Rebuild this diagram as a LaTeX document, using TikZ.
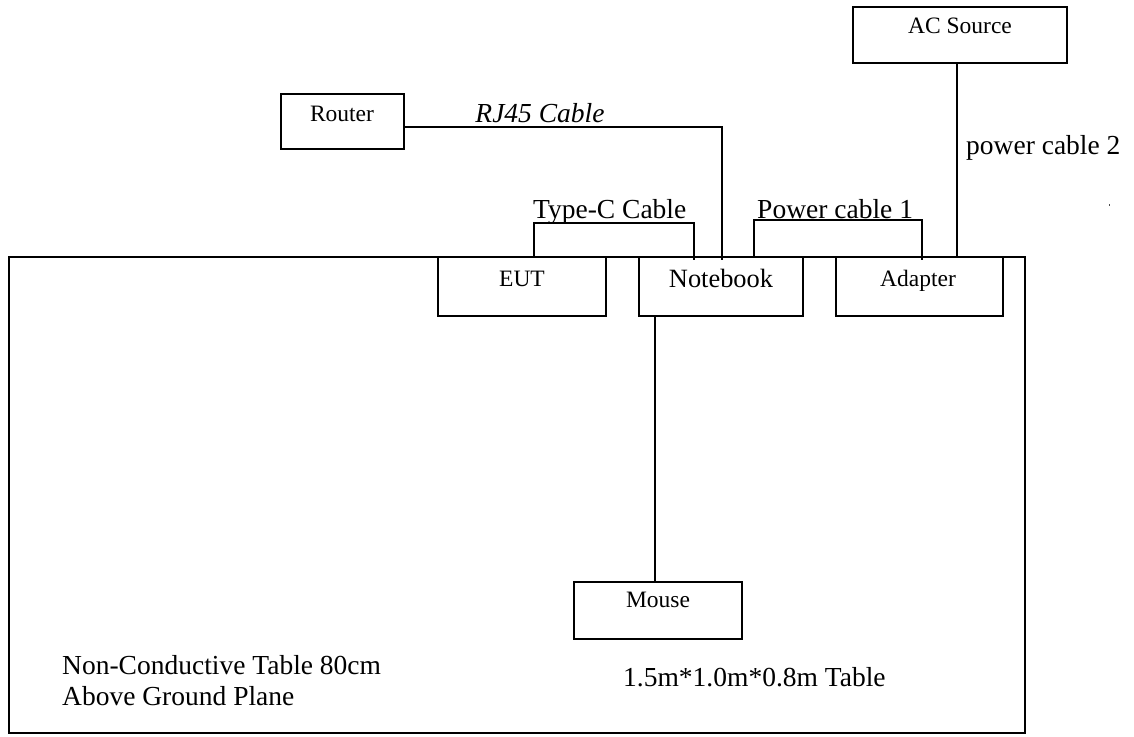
\documentclass[tikz,border=0pt]{standalone}
\usepackage{fontspec}
\setmainfont{Liberation Serif}
\begin{document}
\begin{tikzpicture}[x=1pt,y=-1pt,
  box/.style={draw=black,line width=1.4pt,rectangle,inner sep=0pt,minimum height=#1},
  box/.default=57pt,
  cable/.style={draw=black,line width=1.8pt},
  lbl/.style={inner sep=0pt,anchor=base,font=\fontsize{23.5}{28}\selectfont},
  clbl/.style={inner sep=0pt,anchor=base west,font=\fontsize{27.5}{32}\selectfont},
  blbl/.style={inner sep=0pt,anchor=base west,font=\fontsize{27.5}{32}\selectfont}]
\useasboundingbox (0,0) rectangle (1134,736);
% table
\node[draw=black,line width=2pt,rectangle,inner sep=0pt,minimum width=1016pt,minimum height=476pt] (table) at (517,495) {};
% boxes
\node[box=59pt,minimum width=168pt] (eut) at (522,286.5) {};
\node[box=59pt,minimum width=164pt] (nb) at (721,286.5) {};
\node[box=59pt,minimum width=167pt] (adp) at (919.5,286.5) {};
\node[box=55pt,minimum width=123pt] (router) at (342.5,121.5) {};
\node[box=56pt,minimum width=214pt] (ac) at (960,35) {};
\node[box=57pt,minimum width=168pt] (mouse) at (658,610.5) {};
% box labels
\node[lbl] (eutl) at (522,286) {EUT};
\node[lbl,font=\fontsize{26.4}{30}\selectfont] (nbl) at (721,287) {Notebook};
\node[lbl] (adpl) at (918,286) {Adapter};
\node[lbl] (routerl) at (342,121) {Router};
\node[lbl] (acl) at (960,33) {AC Source};
\node[lbl] (mousel) at (658,607) {Mouse};
% connectors
\draw[cable] ([yshift=-5.5pt]router.east) -| ([xshift=1pt,yshift=-4pt]nb.north);
\draw[cable] ([xshift=12pt]eut.north) -- ++(0,-33) -| ([xshift=-27pt,yshift=-4pt]nb.north);
\draw[cable] ([xshift=33pt]nb.north) -- ++(0,-36) -| ([xshift=2.5pt,yshift=-4pt]adp.north);
\draw[cable] ([xshift=-3pt]ac.south) -- ([xshift=-3pt]ac.south |- adp.north);
\draw[cable] ([xshift=-66pt]nb.south) -- ([xshift=-66pt]nb.south |- mouse.north);
% cable labels
\node[clbl,anchor=base,font=\fontsize{27.5}{32}\selectfont\itshape] (rj45) at (540,122) {RJ45 Cable};
\node[clbl] (typec) at (533,218) {Type-C Cable};
\node[clbl] (pc1) at (757,218) {Power cable 1};
\node[clbl] (pc2) at (966,154) {power cable 2};
% table texts
\node[blbl] (t1) at (62,674) {Non-Conductive Table 80cm};
\node[blbl] (t2) at (62,705) {Above Ground Plane};
\node[blbl] (t3) at (623,686) {1.5m*1.0m*0.8m Table};
% stray dot
\fill[black!70] (1108.5,204.3) rectangle (1110,205.8);
\end{tikzpicture}
\end{document}
